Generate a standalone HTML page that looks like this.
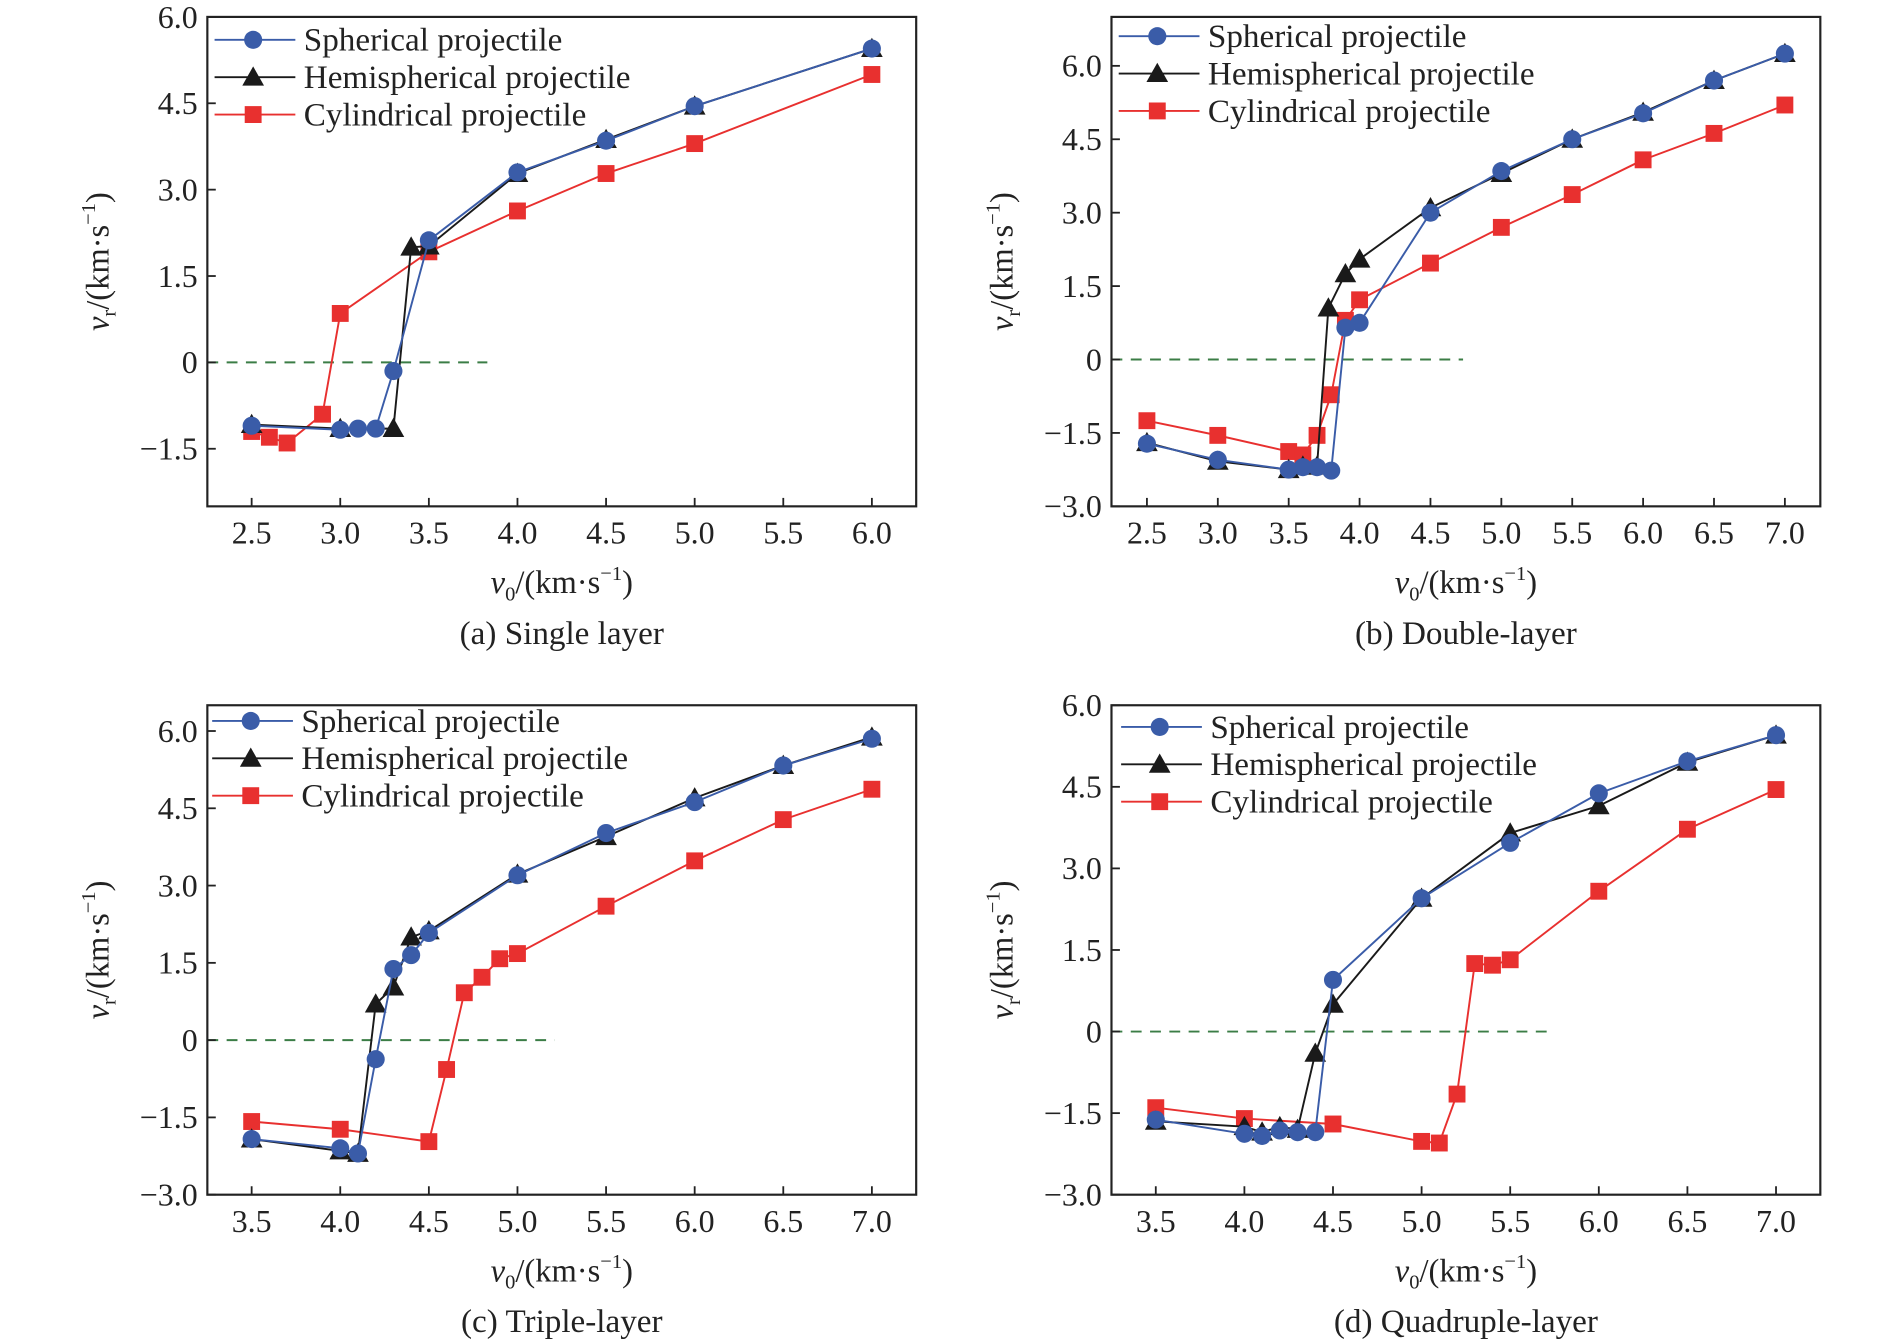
<!DOCTYPE html>
<html><head><meta charset="utf-8"><style>
html,body{margin:0;padding:0;background:#fff;}
svg{display:block;font-family:"Liberation Serif","DejaVu Serif",serif;}
</style></head><body>
<svg id="s" width="1890" height="1343" viewBox="0 0 1567.8 1114" xmlns="http://www.w3.org/2000/svg"></svg>
<script>
const S=document.getElementById('s');let h='';
const BL='#3a5ca8',BK='#1a1a1a',RD='#e8302f',GR='#3b7d46';
const panels=[
{L:172,R:760,T:14,B:420,x0:2.25,x1:6.25,y0:-2.5,y1:6.0,xt:[2.5,3,3.5,4,4.5,5,5.5,6],yt:[-1.5,0,1.5,3,4.5,6],dz:3.83,cap:'(a) Single layer',lg:[33,64,95],lx:178,
sp:[[2.5,-1.1],[3.0,-1.17],[3.1,-1.15],[3.2,-1.15],[3.3,-0.15],[3.5,2.12],[4.0,3.3],[4.5,3.85],[5.0,4.45],[6.0,5.45]],
he:[[2.5,-1.08],[3.0,-1.15],[3.3,-1.15],[3.4,2.0],[3.5,2.02],[4.0,3.28],[4.5,3.87],[5.0,4.45],[6.0,5.45]],
cy:[[2.5,-1.2],[2.6,-1.3],[2.7,-1.4],[2.9,-0.9],[3.0,0.85],[3.5,1.92],[4.0,2.63],[4.5,3.28],[5.0,3.8],[6.0,5.0]]},
{L:922,R:1510,T:14,B:420,x0:2.25,x1:7.25,y0:-3,y1:7,xt:[2.5,3,3.5,4,4.5,5,5.5,6,6.5,7],yt:[-3,-1.5,0,1.5,3,4.5,6],dz:4.73,cap:'(b) Double-layer',lg:[30,61,92],lx:928,
sp:[[2.5,-1.72],[3.0,-2.05],[3.5,-2.25],[3.6,-2.2],[3.7,-2.2],[3.8,-2.27],[3.9,0.65],[4.0,0.75],[4.5,3.0],[5.0,3.85],[5.5,4.5],[6.0,5.03],[6.5,5.7],[7.0,6.25]],
he:[[2.5,-1.7],[3.0,-2.08],[3.5,-2.25],[3.6,-2.18],[3.7,-2.18],[3.78,1.05],[3.9,1.75],[4.0,2.05],[4.5,3.1],[5.0,3.8],[5.5,4.5],[6.0,5.05],[6.5,5.7],[7.0,6.25]],
cy:[[2.5,-1.25],[3.0,-1.55],[3.5,-1.88],[3.6,-1.95],[3.7,-1.55],[3.8,-0.72],[3.9,0.8],[4.0,1.22],[4.5,1.97],[5.0,2.7],[5.5,3.37],[6.0,4.08],[6.5,4.62],[7.0,5.2]]},
{L:172,R:760,T:585,B:991,x0:3.25,x1:7.25,y0:-3,y1:6.5,xt:[3.5,4,4.5,5,5.5,6,6.5,7],yt:[-3,-1.5,0,1.5,3,4.5,6],dz:5.21,cap:'(c) Triple-layer',lg:[598,629,660],lx:176,
sp:[[3.5,-1.92],[4.0,-2.1],[4.1,-2.2],[4.2,-0.37],[4.3,1.38],[4.4,1.65],[4.5,2.08],[5.0,3.2],[5.5,4.02],[6.0,4.62],[6.5,5.33],[7.0,5.85]],
he:[[3.5,-1.92],[4.0,-2.15],[4.1,-2.2],[4.2,0.7],[4.3,1.03],[4.4,2.0],[4.5,2.12],[5.0,3.22],[5.5,3.95],[6.0,4.7],[6.5,5.33],[7.0,5.88]],
cy:[[3.5,-1.58],[4.0,-1.73],[4.5,-1.97],[4.6,-0.57],[4.7,0.92],[4.8,1.22],[4.9,1.58],[5.0,1.68],[5.5,2.6],[6.0,3.48],[6.5,4.28],[7.0,4.87]]},
{L:922,R:1510,T:585,B:991,x0:3.25,x1:7.25,y0:-3,y1:6,xt:[3.5,4,4.5,5,5.5,6,6.5,7],yt:[-3,-1.5,0,1.5,3,4.5,6],dz:5.71,cap:'(d) Quadruple-layer',lg:[603,634,665],lx:930,
sp:[[3.5,-1.62],[4.0,-1.88],[4.1,-1.92],[4.2,-1.82],[4.3,-1.85],[4.4,-1.85],[4.5,0.95],[5.0,2.45],[5.5,3.47],[6.0,4.38],[6.5,4.97],[7.0,5.45]],
he:[[3.5,-1.65],[4.0,-1.75],[4.1,-1.85],[4.2,-1.75],[4.3,-1.8],[4.4,-0.4],[4.5,0.5],[5.0,2.45],[5.5,3.65],[6.0,4.15],[6.5,4.95],[7.0,5.45]],
cy:[[3.5,-1.4],[4.0,-1.6],[4.5,-1.7],[5.0,-2.02],[5.1,-2.05],[5.2,-1.15],[5.3,1.25],[5.4,1.22],[5.5,1.32],[6.0,2.58],[6.5,3.72],[7.0,4.45]]}];
function mk(t,x,y,c){
 if(t=='o')return `<circle cx="${x}" cy="${y}" r="7.5" fill="${c}"/>`;
 if(t=='^')return `<polygon points="${x},${y-9} ${x-9},${y+7} ${x+9},${y+7}" fill="${c}"/>`;
 return `<rect x="${x-7}" y="${y-7}" width="14" height="14" fill="${c}"/>`;}
function fmt(v){if(v==0)return '0';let s=v.toFixed(1);return v<0?'\u2212'+s.slice(1):s;}
for(const p of panels){
 const X=v=>p.L+(v-p.x0)/(p.x1-p.x0)*(p.R-p.L), Y=v=>p.B-(v-p.y0)/(p.y1-p.y0)*(p.B-p.T);
 h+=`<line x1="${p.L}" y1="${Y(0)}" x2="${X(p.dz)}" y2="${Y(0)}" stroke="${GR}" stroke-width="1.6" stroke-dasharray="9,7"/>`;
 for(const [d,c,t] of [[p.cy,RD,'s'],[p.he,BK,'^'],[p.sp,BL,'o']]){
  h+=`<polyline fill="none" stroke="${c}" stroke-width="1.6" points="${d.map(q=>X(q[0])+','+Y(q[1])).join(' ')}"/>`;
  for(const q of d)h+=mk(t,X(q[0]),Y(q[1]),c);}
 h+=`<rect x="${p.L}" y="${p.T}" width="${p.R-p.L}" height="${p.B-p.T}" fill="none" stroke="#222" stroke-width="1.8"/>`;
 for(const v of p.xt){const x=X(v);h+=`<line x1="${x}" y1="${p.B}" x2="${x}" y2="${p.B-7}" stroke="#222" stroke-width="1.5"/><text x="${x}" y="${p.B+31}" font-size="26.5" text-anchor="middle" fill="#222">${fmt(v)}</text>`;}
 for(const v of p.yt){const y=Y(v);h+=`<line x1="${p.L}" y1="${y}" x2="${p.L+7}" y2="${y}" stroke="#222" stroke-width="1.5"/><text x="${p.L-8}" y="${y+9}" font-size="26.5" text-anchor="end" fill="#222">${fmt(v)}</text>`;}
 const cx=(p.L+p.R)/2;
 h+=`<text x="${cx}" y="${p.B+72}" font-size="27" text-anchor="middle" fill="#222"><tspan font-style="italic">v</tspan><tspan font-size="17" dy="6">0</tspan><tspan dy="-6">/(km·s</tspan><tspan font-size="17" dy="-11">−1</tspan><tspan dy="11">)</tspan></text>`;
 const yc=(p.T+p.B)/2, yx=p.L-82;
 h+=`<text transform="translate(${yx},${yc}) rotate(-90)" font-size="27" text-anchor="middle" fill="#222"><tspan font-style="italic">v</tspan><tspan font-size="17" dy="6">r</tspan><tspan dy="-6">/(km·s</tspan><tspan font-size="17" dy="-11">−1</tspan><tspan dy="11">)</tspan></text>`;
 h+=`<text x="${cx}" y="${p.B+114}" font-size="27.5" text-anchor="middle" fill="#222">${p.cap}</text>`;
 const names=[['Spherical projectile',BL,'o'],['Hemispherical projectile',BK,'^'],['Cylindrical projectile',RD,'s']];
 names.forEach((n,i)=>{const y=p.lg[i];h+=`<line x1="${p.lx}" y1="${y}" x2="${p.lx+67}" y2="${y}" stroke="${n[1]}" stroke-width="1.6"/>`+mk(n[2],p.lx+32,y,n[1])+`<text x="${p.lx+74}" y="${y+9}" font-size="27.5" fill="#222">${n[0]}</text>`;});
}
S.innerHTML=h;
</script>
</body></html>
